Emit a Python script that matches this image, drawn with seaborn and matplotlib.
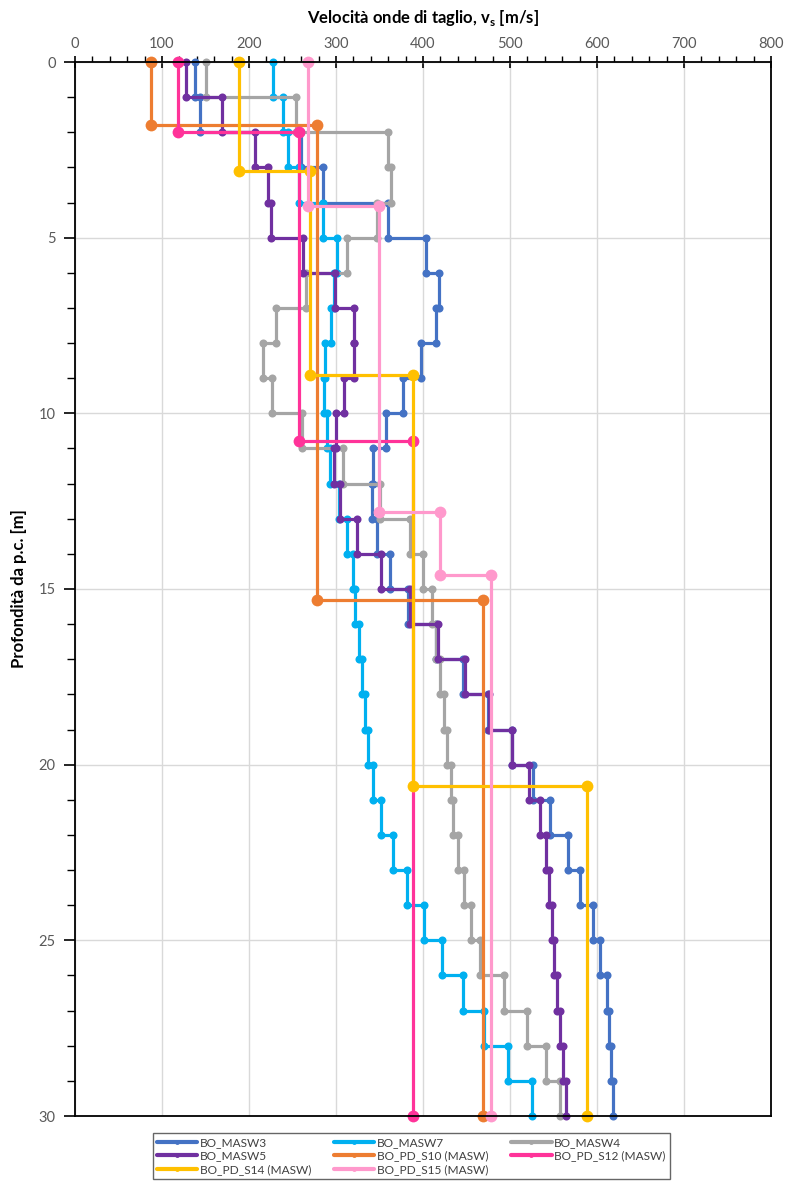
import numpy as np
import pandas as pd
import matplotlib
matplotlib.use("Agg")
import matplotlib.pyplot as plt
import seaborn as sns
from matplotlib.ticker import MultipleLocator
from matplotlib.lines import Line2D

# ---------------- data ----------------
series_names = ["BO_MASW3", "BO_MASW7", "BO_MASW4", "BO_MASW5",
                "BO_PD_S10 (MASW)", "BO_PD_S12 (MASW)", "BO_PD_S14 (MASW)", "BO_PD_S15 (MASW)"]
series_colors = ["#4472C4", "#00B0F0", "#A5A5A5", "#7030A0",
                 "#ED7D31", "#FF3399", "#FFC000", "#FF99CC"]

# MASW profiles: 1 m layers from 0 to 30 m
masw_bounds = list(range(0, 31))
masw3 = [138, 144, 260, 285, 360, 403, 418, 415, 398, 377,
         357, 343, 341, 347, 362, 383, 415, 446, 475, 502,
         527, 546, 567, 581, 595, 603, 611, 614, 616, 618]
masw7 = [228, 239, 245, 258, 285, 301, 298, 294, 287, 286,
         290, 293, 303, 313, 320, 322, 326, 330, 333, 337,
         342, 352, 365, 382, 401, 422, 446, 470, 498, 525]
masw4 = [150, 254, 360, 363, 347, 313, 266, 231, 216, 227,
         261, 308, 350, 385, 400, 410, 415, 420, 424, 428,
         432, 434, 440, 447, 455, 466, 493, 519, 541, 558]
masw5 = [128, 169, 207, 222, 225, 262, 299, 321, 321, 309,
         300, 298, 305, 324, 352, 385, 417, 448, 476, 502,
         522, 534, 541, 545, 548, 551, 554, 557, 561, 564]

# PD profiles: few layers
s10_bounds = [0, 1.8, 15.3, 30]
s10_vs = [87, 278, 469]
s12_bounds = [0, 2.0, 10.8, 30]
s12_vs = [118, 258, 389]
s14_bounds = [0, 3.1, 8.9, 20.6, 30]
s14_vs = [188, 270, 389, 588]
s15_bounds = [0, 4.1, 12.8, 14.6, 30]
s15_vs = [268, 349, 419, 478]

x_ticks = [0, 100, 200, 300, 400, 500, 600, 700, 800]
y_ticks = [0, 5, 10, 15, 20, 25, 30]

profiles = [
    (masw_bounds, masw3), (masw_bounds, masw7), (masw_bounds, masw4), (masw_bounds, masw5),
    (s10_bounds, s10_vs), (s12_bounds, s12_vs), (s14_bounds, s14_vs), (s15_bounds, s15_vs),
]

rows = []
for name, (bounds, vs) in zip(series_names, profiles):
    k = 0
    for i, v in enumerate(vs):
        rows.append(dict(series=name, v=v, depth=bounds[i], k=k)); k += 1
        rows.append(dict(series=name, v=v, depth=bounds[i + 1], k=k)); k += 1
df = pd.DataFrame(rows)

# ---------------- style ----------------
sns.set_theme(style="white")
plt.rcParams["font.family"] = ["Lato", "DejaVu Sans"]
plt.rcParams["mathtext.fontset"] = "custom"
plt.rcParams["mathtext.bf"] = "Lato:bold"
plt.rcParams["mathtext.rm"] = "Lato"

fig = plt.figure(figsize=(7.88, 11.82), dpi=100)
ax = fig.add_axes([75 / 788, 1 - 1116 / 1182, (771 - 75) / 788, (1116 - 62) / 1182])

for name, col in zip(series_names, series_colors):
    sub = df[df.series == name]
    is_pd = "PD" in name
    sns.lineplot(data=sub, x="v", y="depth", sort=False, estimator=None,
                 color=col, lw=2.3, marker="o",
                 markersize=8.5 if is_pd else 5.8, markeredgewidth=0,
                 ax=ax, legend=False)
for ln in ax.lines:
    ln.set_clip_on(False)

ax.set_xlim(0, 800)
ax.set_ylim(30, 0)
ax.xaxis.tick_top()
ax.xaxis.set_label_position("top")
ax.set_xticks(x_ticks)
ax.set_yticks(y_ticks)
ax.xaxis.set_minor_locator(MultipleLocator(20))
ax.yaxis.set_minor_locator(MultipleLocator(1))
ax.tick_params(axis="x", which="major", direction="inout", length=8, width=1.2,
               color="black", labelsize=10.5, labelcolor="#595959", pad=4, top=True, bottom=False)
ax.tick_params(axis="x", which="minor", direction="out", length=4, width=1.0,
               color="black", top=True, bottom=False)
ax.tick_params(axis="y", which="major", direction="out", length=8, width=1.2,
               color="black", labelsize=10.5, labelcolor="#595959", pad=6, left=True)
ax.tick_params(axis="y", which="minor", direction="out", length=6, width=1.0,
               color="black", left=True)

ax.grid(True, which="major", color="#D9D9D9", lw=1.0)
ax.set_axisbelow(True)
for sp in ax.spines.values():
    sp.set_visible(True)
    sp.set_color("black")
    sp.set_linewidth(1.3)

ax.set_xlabel(r"Velocità onde di taglio, v$_\mathbf{s}$ [m/s]", fontsize=12,
              fontweight="bold", color="black", labelpad=10)
ax.set_ylabel("Profondità da p.c. [m]", fontsize=12, fontweight="bold",
              color="black", labelpad=8)

# legend (row-major order as in the reference)
handles = {n: Line2D([0], [0], color=c, lw=3, marker="o", markersize=3.5, markeredgewidth=0)
           for n, c in zip(series_names, series_colors)}
order = ["BO_MASW3", "BO_MASW5", "BO_PD_S14 (MASW)",
         "BO_MASW7", "BO_PD_S10 (MASW)", "BO_PD_S15 (MASW)",
         "BO_MASW4", "BO_PD_S12 (MASW)"]
leg = fig.legend([handles[n] for n in order], order, loc="upper center",
                 bbox_to_anchor=(411 / 788, 1 - 1127 / 1182), ncol=3, fontsize=8.6,
                 frameon=True, fancybox=False, edgecolor="#404040", borderpad=0.35,
                 handlelength=3.4, handletextpad=0.2, columnspacing=1.9,
                 labelspacing=0.2)
leg.get_frame().set_linewidth(1.0)
for t in leg.get_texts():
    t.set_color("#404040")

fig.savefig("out.png", dpi=100)
